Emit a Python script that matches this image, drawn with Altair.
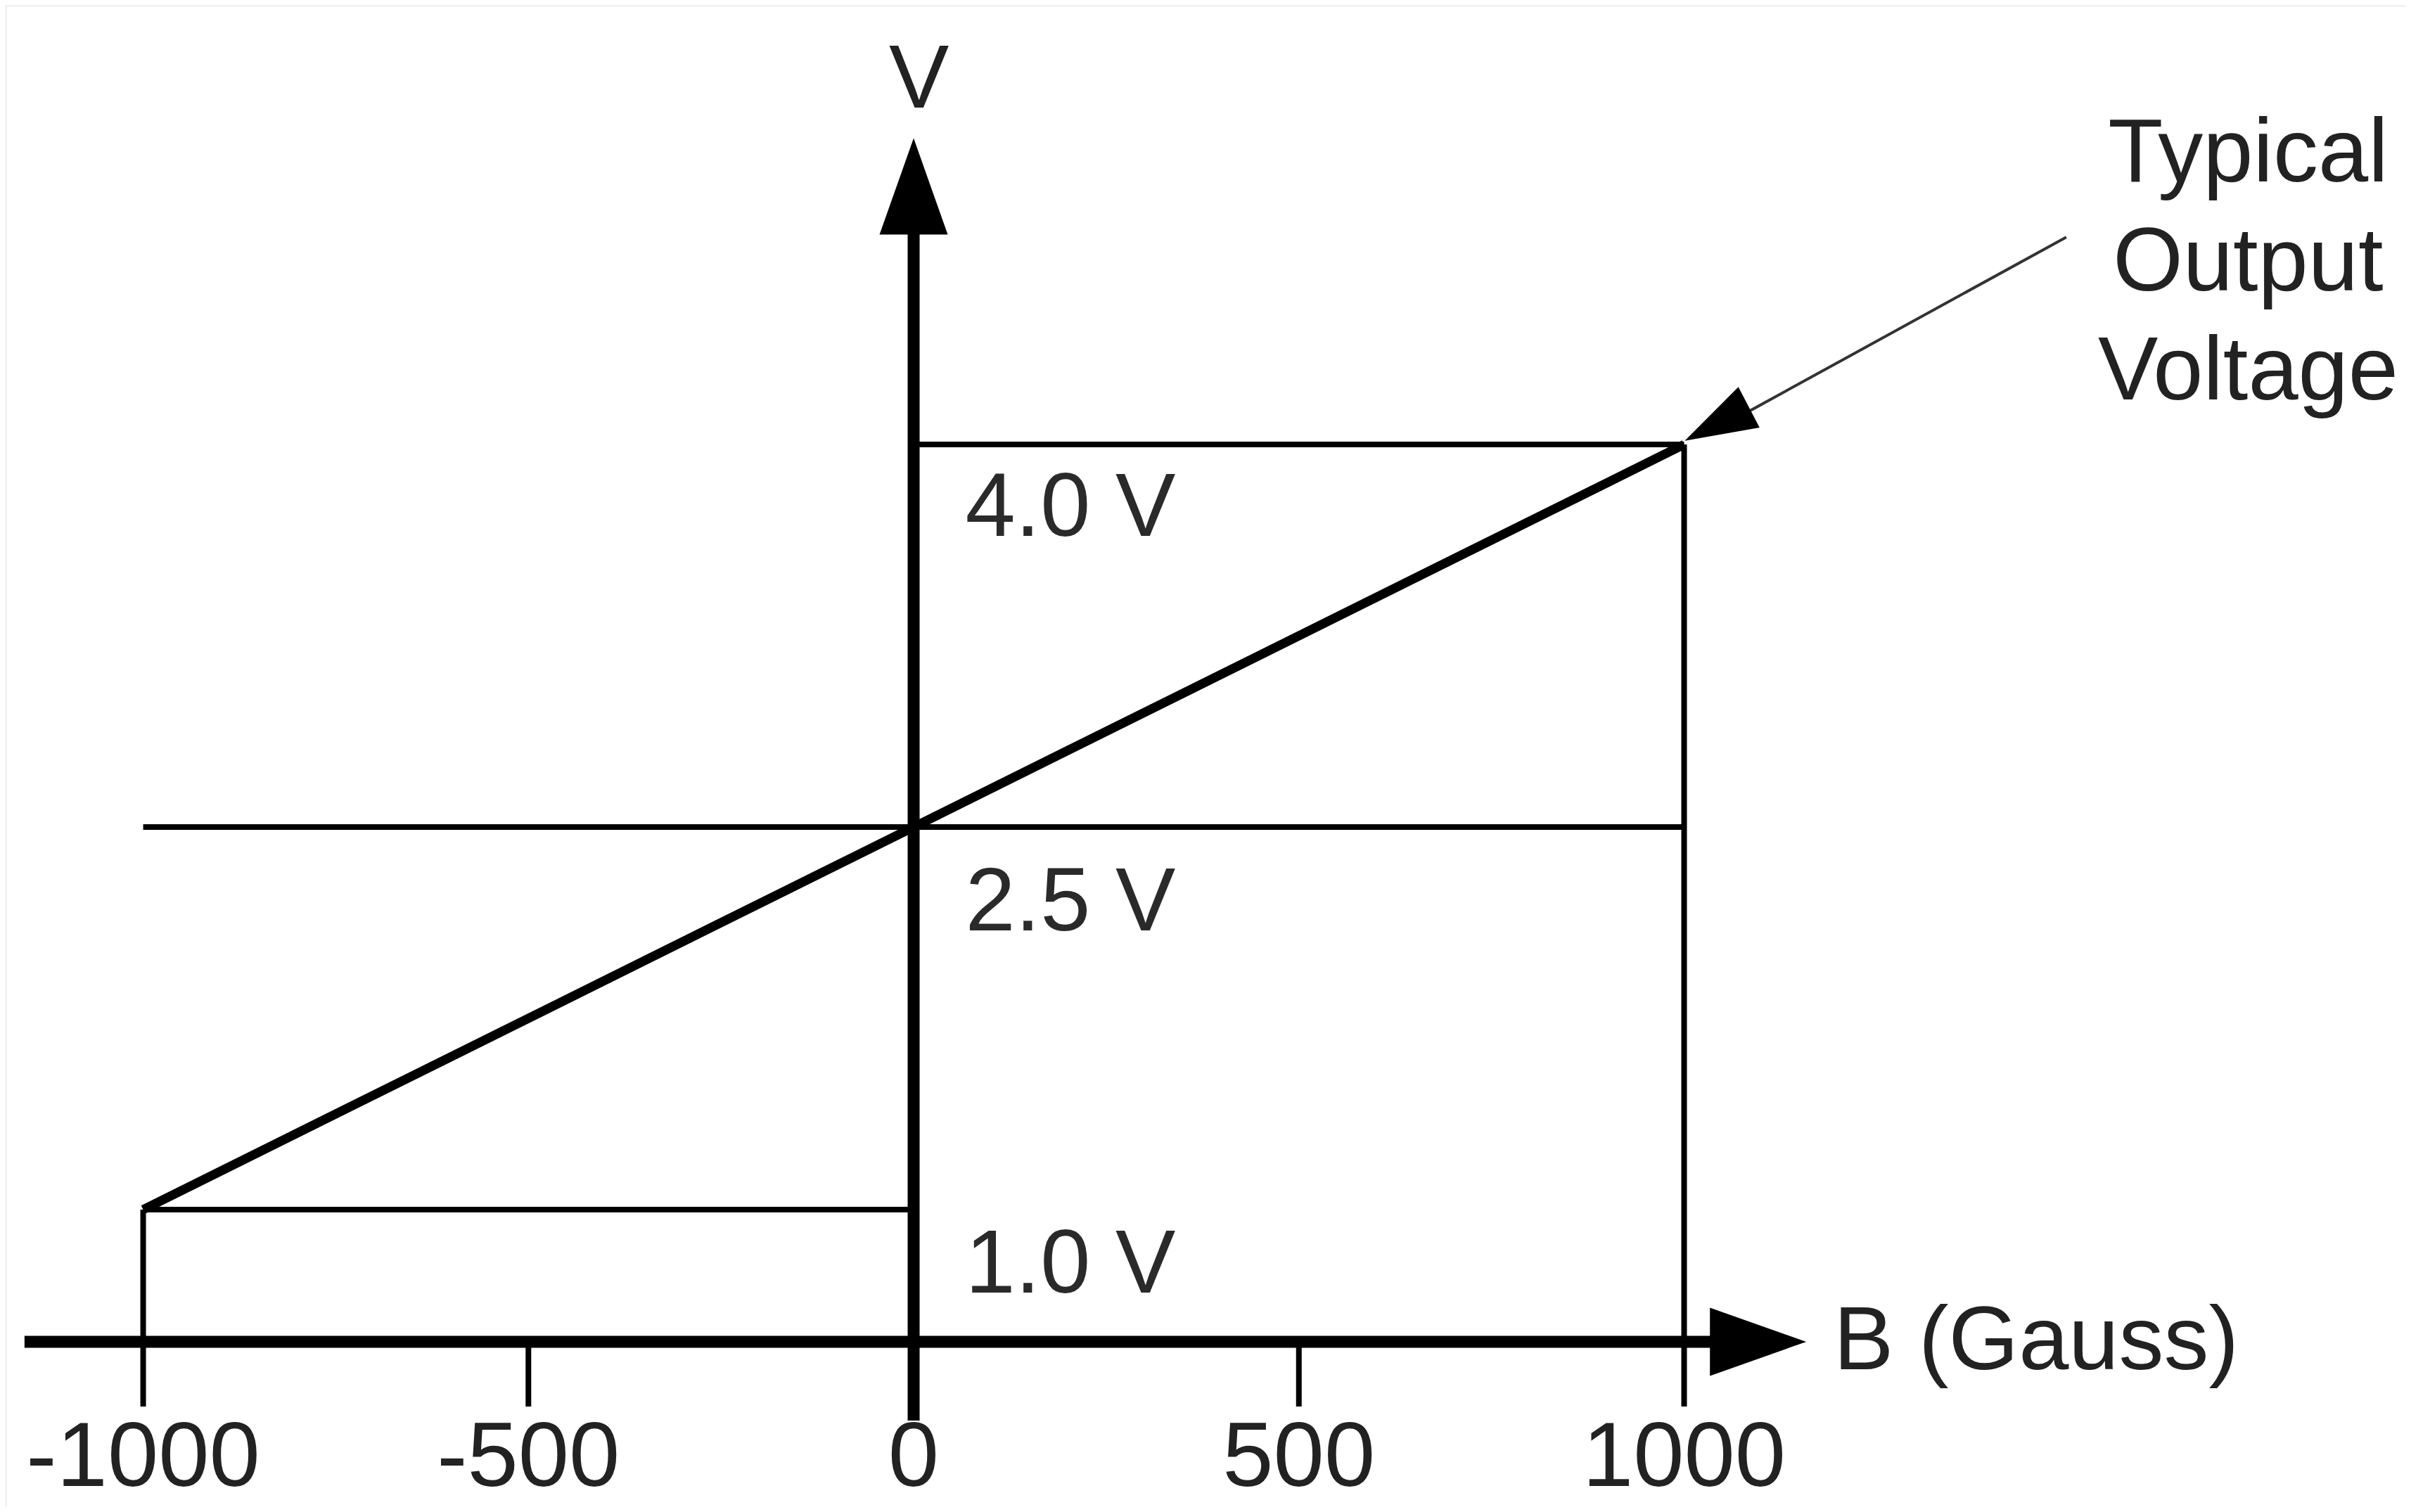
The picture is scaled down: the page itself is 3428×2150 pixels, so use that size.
import altair as alt
import pandas as pd

# ---- values ----
FIELD_TICKS = [-1000, -500, 0, 500, 1000]
FIELD_TICK_LABELS = ["-1000", "-500", "0", "500", "1000"]
FIELD_ENDS = [-1000, 1000]          # Gauss
OUTPUT_ENDS = [1.0, 4.0]            # Volts at the field ends
LEVEL_VOLTS = [1.0, 2.5, 4.0]
LEVEL_LABELS = ["1.0 V", "2.5 V", "4.0 V"]
LEVEL_LABEL_BASE = [0.675, 2.095, 3.642]   # label baselines (V)
LEVEL_LABEL_B = 67                          # label left edge (G)
LEVEL_SPANS = [(-1000, 0), (-1000, 1000), (0, 1000)]

# axis geometry, in data units
X_AXIS_V = 0.482
X_AXIS_START_B = -1154
X_AXIS_END_B = 1040
X_ARROW_B = 1096
Y_AXIS_BOTTOM_V = 0.173
Y_AXIS_TOP_V = 4.83
Y_ARROW_V = 5.012
TICK_BOTTOM_V = 0.228
TICK_LABEL_V = -0.083

AXIS_TITLES = ["V", "B (Gauss)"]
V_TITLE_POS = (7, 5.321)
B_TITLE_POS = (1194, 0.374)

NOTE_TEXT = ["Typical", "Output", "Voltage"]
NOTE_POS = (1732, 5.031)
NOTE_LINE = [(1496, 4.813), (1060, 4.09)]
NOTE_HEAD = (1042.5, 4.080)

XS = alt.Scale(domain=[-1178.5, 1936.1], nice=False, zero=False)
YS = alt.Scale(domain=[-0.1635, 5.7206], nice=False, zero=False)
FONT = "Liberation Sans"
TXT = "#222222"


def xq(f="b"):
    return alt.X(f"{f}:Q", scale=XS, axis=None)


def yq(f="v"):
    return alt.Y(f"{f}:Q", scale=YS, axis=None)


# thin lines: level lines, end verticals, ticks
thin_rows = []
for lv, (b1, b2) in zip(LEVEL_VOLTS, LEVEL_SPANS):
    thin_rows.append(dict(b=b1, v=lv, b2=b2, v2=lv))
for b, top in zip(FIELD_ENDS, OUTPUT_ENDS):
    thin_rows.append(dict(b=b, v=TICK_BOTTOM_V, b2=b, v2=top))
for b in FIELD_TICKS:
    if b not in FIELD_ENDS and b != 0:
        thin_rows.append(dict(b=b, v=TICK_BOTTOM_V, b2=b, v2=X_AXIS_V))
thin = alt.Chart(pd.DataFrame(thin_rows)).mark_rule(
    color="black", strokeWidth=8
).encode(x=xq(), y=yq(), x2="b2:Q", y2="v2:Q")

axes_df = pd.DataFrame([
    dict(b=X_AXIS_START_B, v=X_AXIS_V, b2=X_AXIS_END_B, v2=X_AXIS_V),
    dict(b=0, v=Y_AXIS_BOTTOM_V, b2=0, v2=Y_AXIS_TOP_V),
])
axes = alt.Chart(axes_df).mark_rule(color="black", strokeWidth=17).encode(
    x=xq(), y=yq(), x2="b2:Q", y2="v2:Q"
)

ARROW_PATH = "M0,-1L0.708,1L-0.708,1Z"
x_arrow = alt.Chart(pd.DataFrame({"b": [X_ARROW_B], "v": [X_AXIS_V]})).mark_point(
    shape=ARROW_PATH, size=137 * 137, filled=True, color="black",
    opacity=1, strokeWidth=0, angle=90
).encode(x=xq(), y=yq())
y_arrow = alt.Chart(pd.DataFrame({"b": [0], "v": [Y_ARROW_V]})).mark_point(
    shape=ARROW_PATH, size=137 * 137, filled=True, color="black",
    opacity=1, strokeWidth=0
).encode(x=xq(), y=yq())

diag = alt.Chart(pd.DataFrame({"b": FIELD_ENDS, "v": OUTPUT_ENDS})).mark_line(
    color="black", strokeWidth=13
).encode(x=xq(), y=yq())

note_line = alt.Chart(pd.DataFrame({
    "b": [NOTE_LINE[0][0]], "v": [NOTE_LINE[0][1]],
    "b2": [NOTE_LINE[1][0]], "v2": [NOTE_LINE[1][1]],
})).mark_rule(color="#333333", strokeWidth=4).encode(
    x=xq(), y=yq(), x2="b2:Q", y2="v2:Q"
)
note_head = alt.Chart(pd.DataFrame({"b": [NOTE_HEAD[0]], "v": [NOTE_HEAD[1]]})).mark_point(
    shape="M0,-1L0.631,1L-0.631,1Z", size=103 * 103, filled=True, color="black",
    opacity=1, strokeWidth=0, angle=242.4
).encode(x=xq(), y=yq())

tick_labels = alt.Chart(pd.DataFrame({
    "b": FIELD_TICKS, "v": [TICK_LABEL_V] * len(FIELD_TICKS), "t": FIELD_TICK_LABELS
})).mark_text(
    font=FONT, fontSize=130, color=TXT, align="center", baseline="alphabetic"
).encode(x=xq(), y=yq(), text="t:N")

level_labels = alt.Chart(pd.DataFrame({
    "b": [LEVEL_LABEL_B] * len(LEVEL_LABELS), "v": LEVEL_LABEL_BASE, "t": LEVEL_LABELS
})).mark_text(
    font=FONT, fontSize=128, color="#2a2a2a", align="left", baseline="alphabetic"
).encode(x=xq(), y=yq(), text="t:N")

v_title = alt.Chart(pd.DataFrame({"b": [V_TITLE_POS[0]], "v": [V_TITLE_POS[1]],
                                  "t": [AXIS_TITLES[0]]})).mark_text(
    font=FONT, fontSize=128, color=TXT, align="center", baseline="alphabetic"
).encode(x=xq(), y=yq(), text="t:N")

b_title = alt.Chart(pd.DataFrame({"b": [B_TITLE_POS[0]], "v": [B_TITLE_POS[1]],
                                  "t": [AXIS_TITLES[1]]})).mark_text(
    font=FONT, fontSize=128, color=TXT, align="left", baseline="alphabetic"
).encode(x=xq(), y=yq(), text="t:N")

note_text = alt.Chart(pd.DataFrame({"b": [NOTE_POS[0]], "v": [NOTE_POS[1]],
                                    "t": ["\n".join(NOTE_TEXT)]})).mark_text(
    font=FONT, fontSize=128, color=TXT, align="center", baseline="alphabetic",
    lineBreak="\n", lineHeight=155
).encode(x=xq(), y=yq(), text="t:N")

chart = alt.layer(
    thin, diag, axes, x_arrow, y_arrow, note_line, note_head,
    tick_labels, level_labels, v_title, b_title, note_text
).properties(
    width=3412, height=2134, padding=0, autosize=alt.AutoSizeParams(type="none")
).configure_view(stroke=None).configure(background="white")

chart.save("out.html", embed_options={"renderer": "svg", "actions": False})
